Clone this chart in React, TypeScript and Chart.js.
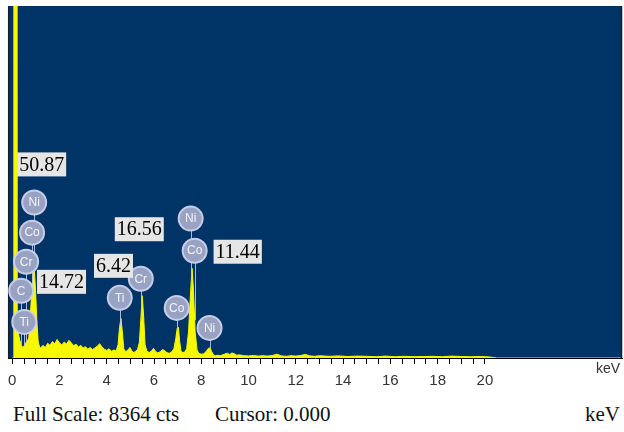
import React, { useEffect, useRef } from 'react';
import { Chart, registerables } from 'chart.js';
Chart.register(...registerables);

// Spectrum (energy in keV, intensity in counts)
const energies = [
  0, 0.04, 0.07, 0.17, 0.2, 0.26, 0.32, 0.38, 0.44, 0.5, 0.56, 0.62, 0.66,
  0.7, 0.76, 0.82, 0.88, 0.93, 0.98, 1.04, 1.1, 1.16,
  1.2, 1.3, 1.4, 1.5, 1.6, 1.7, 1.8, 1.9, 2.0, 2.1, 2.2, 2.3, 2.4, 2.5, 2.6, 2.7, 2.8, 2.9,
  3.0, 3.1, 3.2, 3.3, 3.4, 3.5, 3.6, 3.7, 3.8, 3.9, 4.0, 4.1, 4.2, 4.3, 4.4,
  4.48, 4.54, 4.6, 4.66, 4.72, 4.8, 4.9, 4.98, 5.06, 5.14, 5.22, 5.3, 5.38,
  5.44, 5.5, 5.56, 5.62, 5.7, 5.8, 5.9, 5.98, 6.06, 6.16, 6.26, 6.36, 6.44, 6.54, 6.64, 6.74, 6.84,
  6.92, 6.98, 7.03, 7.08, 7.14, 7.22, 7.3, 7.38,
  7.46, 7.54, 7.61, 7.67, 7.74, 7.82, 7.9, 8.0, 8.1, 8.2, 8.3, 8.37, 8.44, 8.52, 8.6, 8.7, 8.8,
  9.0, 9.1, 9.2, 9.3, 9.4, 9.5, 9.6, 9.8, 10.0, 10.2, 10.4, 10.6, 10.8, 11.0, 11.2, 11.4, 11.6, 11.8,
  12.0, 12.2, 12.4, 12.6, 12.8, 13.0, 13.4, 13.8, 14.2, 14.6, 15.0, 15.4, 15.8, 16.2, 16.6, 17.0,
  17.4, 17.8, 18.2, 18.6, 19.0, 19.4, 19.8, 20.2, 20.5, 25.8,
];
const counts = [
  0, 0, 12000, 12000, 1000, 600, 420, 320, 250, 280, 350, 400, 430,
  480, 950, 1500, 1950, 2120, 1700, 900, 380, 260,
  240, 300, 250, 350, 300, 390, 340, 440, 360, 310, 380, 330, 420, 360, 290, 330, 260, 300,
  240, 270, 210, 250, 200, 240, 280, 340, 260, 210, 180, 220, 160, 190, 170,
  320, 720, 940, 620, 220, 150, 190, 250, 170, 130, 160, 200, 370,
  900, 1480, 1000, 320, 160, 130, 170, 230, 160, 120, 150, 200, 180, 130, 110, 140, 220,
  460, 700, 730, 420, 160, 130, 140, 220,
  620, 1500, 2130, 1600, 620, 190, 110, 90, 100, 150, 230, 240, 150, 70, 55, 65, 55,
  95, 115, 85, 120, 100, 65, 75, 55, 50, 60, 45, 55, 45, 60, 90, 50, 40, 55,
  45, 60, 85, 50, 40, 55, 40, 50, 35, 45, 40, 30, 45, 30, 40, 30,
  35, 40, 30, 45, 35, 30, 35, 25, 0, 0,
];

const fullScale = 8364;
const xMin = -0.17;
const xMax = 25.8;
const labelledTicks = [0, 2, 4, 6, 8, 10, 12, 14, 16, 18, 20];
const tickStep = 0.5;
const lastTick = 20;

// Element markers
const markerSymbols = ['Ni', 'Co', 'Cr', 'C', 'Ti', 'Ti', 'Cr', 'Co', 'Ni', 'Co', 'Ni'];
const markerKeV = [0.93, 0.84, 0.59, 0.38, 0.51, 4.55, 5.44, 6.96, 7.55, 7.72, 8.35];
const markerCounts = [3694, 2979, 2288, 1597, 858, 1430, 1883, 1191, 3312, 2550, 715];

// Value labels
const peakLabelTexts = ['50.87', '14.72', '6.42', '16.56', '11.44'];
const peakLabelKeV = [0.21, 1.05, 3.46, 4.34, 8.52];
const peakLabelCounts = [4600, 1810, 2190, 3060, 2525];

function spectrumAt(k: number): number {
  for (let i = 0; i < energies.length - 1; i++) {
    if (k >= energies[i] && k <= energies[i + 1]) {
      const t = (k - energies[i]) / (energies[i + 1] - energies[i]);
      return counts[i] + t * (counts[i + 1] - counts[i]);
    }
  }
  return 0;
}

const bgPlugin = {
  id: 'bgPlugin',
  beforeDraw(chart: any) {
    const { ctx, chartArea: a } = chart;
    ctx.save();
    ctx.fillStyle = '#003366';
    ctx.fillRect(a.left, a.top, a.right - a.left, a.bottom - a.top);
    ctx.restore();
  },
  afterDraw(chart: any) {
    const { ctx, chartArea: a, scales } = chart;
    const xs = scales.x;
    const ys = scales.y;
    ctx.save();
    // frame
    ctx.strokeStyle = '#10202c';
    ctx.lineWidth = 1.5;
    ctx.beginPath();
    ctx.moveTo(a.left + 0.5, a.top);
    ctx.lineTo(a.left + 0.5, a.bottom);
    ctx.moveTo(a.right - 0.5, a.top);
    ctx.lineTo(a.right - 0.5, a.bottom);
    ctx.stroke();

    // marker stems
    const r = 12;
    ctx.strokeStyle = 'rgba(190,200,225,0.9)';
    ctx.lineWidth = 1;
    for (let i = 0; i < markerSymbols.length; i++) {
      const px = xs.getPixelForValue(markerKeV[i]);
      const py = ys.getPixelForValue(markerCounts[i]);
      const endY = ys.getPixelForValue(spectrumAt(markerKeV[i]));
      if (endY > py + r) {
        ctx.beginPath();
        ctx.moveTo(Math.round(px) + 0.5, py + r);
        ctx.lineTo(Math.round(px) + 0.5, endY);
        ctx.stroke();
      }
    }
    // marker circles
    for (let i = 0; i < markerSymbols.length; i++) {
      const px = xs.getPixelForValue(markerKeV[i]);
      const py = ys.getPixelForValue(markerCounts[i]);
      ctx.beginPath();
      ctx.arc(px, py, r, 0, Math.PI * 2);
      ctx.fillStyle = '#98a2c2';
      ctx.fill();
      ctx.lineWidth = 2;
      ctx.strokeStyle = 'rgba(205,210,235,0.95)';
      ctx.stroke();
      ctx.fillStyle = '#f4f4f8';
      ctx.font = '12px "Liberation Sans", Arial, sans-serif';
      ctx.textAlign = 'center';
      ctx.textBaseline = 'middle';
      ctx.fillText(markerSymbols[i], px, py + 0.5);
    }
    // value labels
    ctx.font = '20px "Liberation Serif", "Times New Roman", serif';
    ctx.textAlign = 'left';
    ctx.textBaseline = 'middle';
    for (let i = 0; i < peakLabelTexts.length; i++) {
      const px = xs.getPixelForValue(peakLabelKeV[i]);
      const py = ys.getPixelForValue(peakLabelCounts[i]);
      const w = ctx.measureText(peakLabelTexts[i]).width;
      ctx.fillStyle = '#e6e6e6';
      ctx.fillRect(px, py - 12, w + 4, 24);
      ctx.fillStyle = '#000';
      ctx.fillText(peakLabelTexts[i], px + 2, py + 1);
    }
    // axis unit
    ctx.font = '14px "Liberation Sans", Arial, sans-serif';
    ctx.fillStyle = '#333';
    ctx.textAlign = 'right';
    ctx.textBaseline = 'middle';
    ctx.fillText('keV', a.right - 2, a.bottom + 11);
    ctx.restore();
  },
};

export default function App() {
  const ref = useRef<HTMLCanvasElement>(null);
  useEffect(() => {
    if (!ref.current) return;
    const data = energies.map((e, i) => ({ x: e, y: counts[i] }));
    const chart = new Chart(ref.current, {
      type: 'line',
      data: {
        datasets: [
          {
            data,
            borderColor: '#f8f800',
            backgroundColor: '#f8f800',
            borderWidth: 1,
            pointRadius: 0,
            fill: 'origin',
            tension: 0,
          },
        ],
      },
      options: {
        responsive: false,
        animation: false,
        events: [],
        layout: { padding: { top: 6, left: 6, right: 2, bottom: 2 } },
        plugins: { legend: { display: false }, tooltip: { enabled: false } },
        scales: {
          x: {
            type: 'linear',
            min: xMin,
            max: xMax,
            afterBuildTicks(scale: any) {
              const t: any[] = [];
              for (let v = 0; v <= lastTick + 1e-9; v += tickStep) t.push({ value: Math.round(v * 10) / 10 });
              scale.ticks = t;
            },
            grid: { drawOnChartArea: false, drawTicks: true, tickLength: 6, color: '#000' },
            border: { display: true, color: '#000', width: 1 },
            ticks: {
              autoSkip: false,
              maxRotation: 0,
              padding: 8,
              color: '#333',
              font: { family: '"Liberation Sans", Arial, sans-serif', size: 15 },
              callback: (v: any) => (labelledTicks.includes(Number(v)) ? String(v) : ''),
            },
          },
          y: { display: false, min: 0, max: fullScale },
        },
      },
      plugins: [bgPlugin],
    });
    return () => chart.destroy();
  }, []);

  const foot: React.CSSProperties = {
    position: 'absolute',
    top: 402,
    fontFamily: '"Liberation Serif", "Times New Roman", serif',
    fontSize: 21,
    lineHeight: '24px',
    color: '#111',
    whiteSpace: 'nowrap',
  };
  return (
    <div style={{ position: 'fixed', left: 0, top: 0, width: 624, height: 432, background: '#fff' }}>
      <canvas ref={ref} width={624} height={400} style={{ width: 624, height: 400, display: 'block' }} />
      <div style={{ ...foot, left: 13 }}>Full Scale: 8364 cts</div>
      <div style={{ ...foot, left: 215 }}>Cursor: 0.000</div>
      <div style={{ ...foot, right: 4 }}>keV</div>
    </div>
  );
}
